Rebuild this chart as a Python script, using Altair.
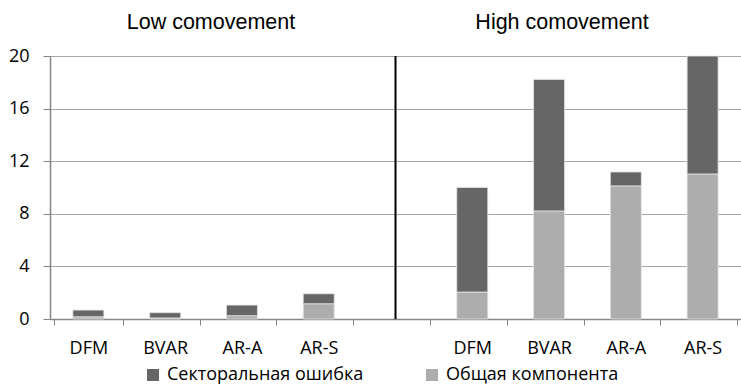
import altair as alt
import pandas as pd

models = ["DFM", "BVAR", "AR-A", "AR-S"]
low_common = [0.17, 0.08, 0.25, 1.16]
low_sector = [0.51, 0.40, 0.81, 0.76]
high_common = [2.05, 8.22, 10.12, 11.03]
high_sector = [7.95, 10.00, 1.06, 8.97]
series = ["Секторальная ошибка", "Общая компонента"]
panel_titles = ["Low comovement", "High comovement"]

domain = [m + "|L" for m in models] + ["|gap"] + [m + "|H" for m in models]

rows = []
for i, m in enumerate(models):
    rows.append({"cat": m + "|L", "series": series[1], "value": low_common[i], "ord": 0})
    rows.append({"cat": m + "|L", "series": series[0], "value": low_sector[i], "ord": 1})
    rows.append({"cat": m + "|H", "series": series[1], "value": high_common[i], "ord": 0})
    rows.append({"cat": m + "|H", "series": series[0], "value": high_sector[i], "ord": 1})
df = pd.DataFrame(rows)

FONT = "Open Sans"

bars = alt.Chart(df).mark_bar(size=31, stroke="#E4E4E4", strokeWidth=0.8).encode(
    x=alt.X("cat:N", scale=alt.Scale(domain=domain), sort=domain,
            axis=alt.Axis(title=None, labelAngle=0, tickBand="extent",
                          labelExpr="isValid(datum.value) ? split(datum.value, '|')[0] : ''",
                          labelFont=FONT, labelFontSize=18, labelColor="#000000",
                          domainColor="#868686", tickColor="#868686", tickSize=6,
                          labelPadding=14, grid=False, domainWidth=1.5)),
    y=alt.Y("value:Q", stack="zero",
            scale=alt.Scale(domain=[0, 20], clamp=True, nice=False),
            axis=alt.Axis(title=None, values=[0, 4, 8, 12, 16, 20],
                          labelFont=FONT, labelFontSize=18, labelColor="#000000",
                          domainColor="#868686", tickColor="#868686", tickSize=7,
                          gridColor="#A6A6A6", gridWidth=1.2, labelPadding=14,
                          domainWidth=1.5)),
    color=alt.Color("series:N",
                    scale=alt.Scale(domain=series, range=["#666666", "#ADADAD"]),
                    legend=alt.Legend(title=None, orient="none", legendX=94, legendY=310,
                                      direction="horizontal", symbolType="square",
                                      symbolSize=144, symbolStrokeWidth=0, padding=0,
                                      labelFont=FONT, labelFontSize=18,
                                      labelColor="#000000", columnPadding=59,
                                      labelOffset=5, labelLimit=400)),
    order=alt.Order("ord:Q"),
)

sep = alt.Chart(pd.DataFrame({"cat": ["|gap"]})).mark_rule(color="#000000", strokeWidth=2).encode(
    x=alt.X("cat:N", scale=alt.Scale(domain=domain), sort=domain),
    y=alt.value(0),
    y2=alt.value(263),
)

titles_df = pd.DataFrame({"t": panel_titles, "px": [161, 512]})
titles = alt.Chart(titles_df).mark_text(font="Liberation Sans", fontSize=21.5, color="#000000",
                                        baseline="alphabetic").encode(
    x=alt.X("px:Q", scale=None),
    y=alt.value(-27),
    text="t:N",
)

chart = alt.layer(bars, sep, titles).properties(
    width=691, height=263,
    padding={"left": 50, "top": 56, "right": 0, "bottom": 66},
    autosize=alt.AutoSizeParams(type="none"),
).configure_view(stroke=None).configure(background="#ffffff")

chart.save("out.html", embed_options={"renderer": "svg", "actions": False})
